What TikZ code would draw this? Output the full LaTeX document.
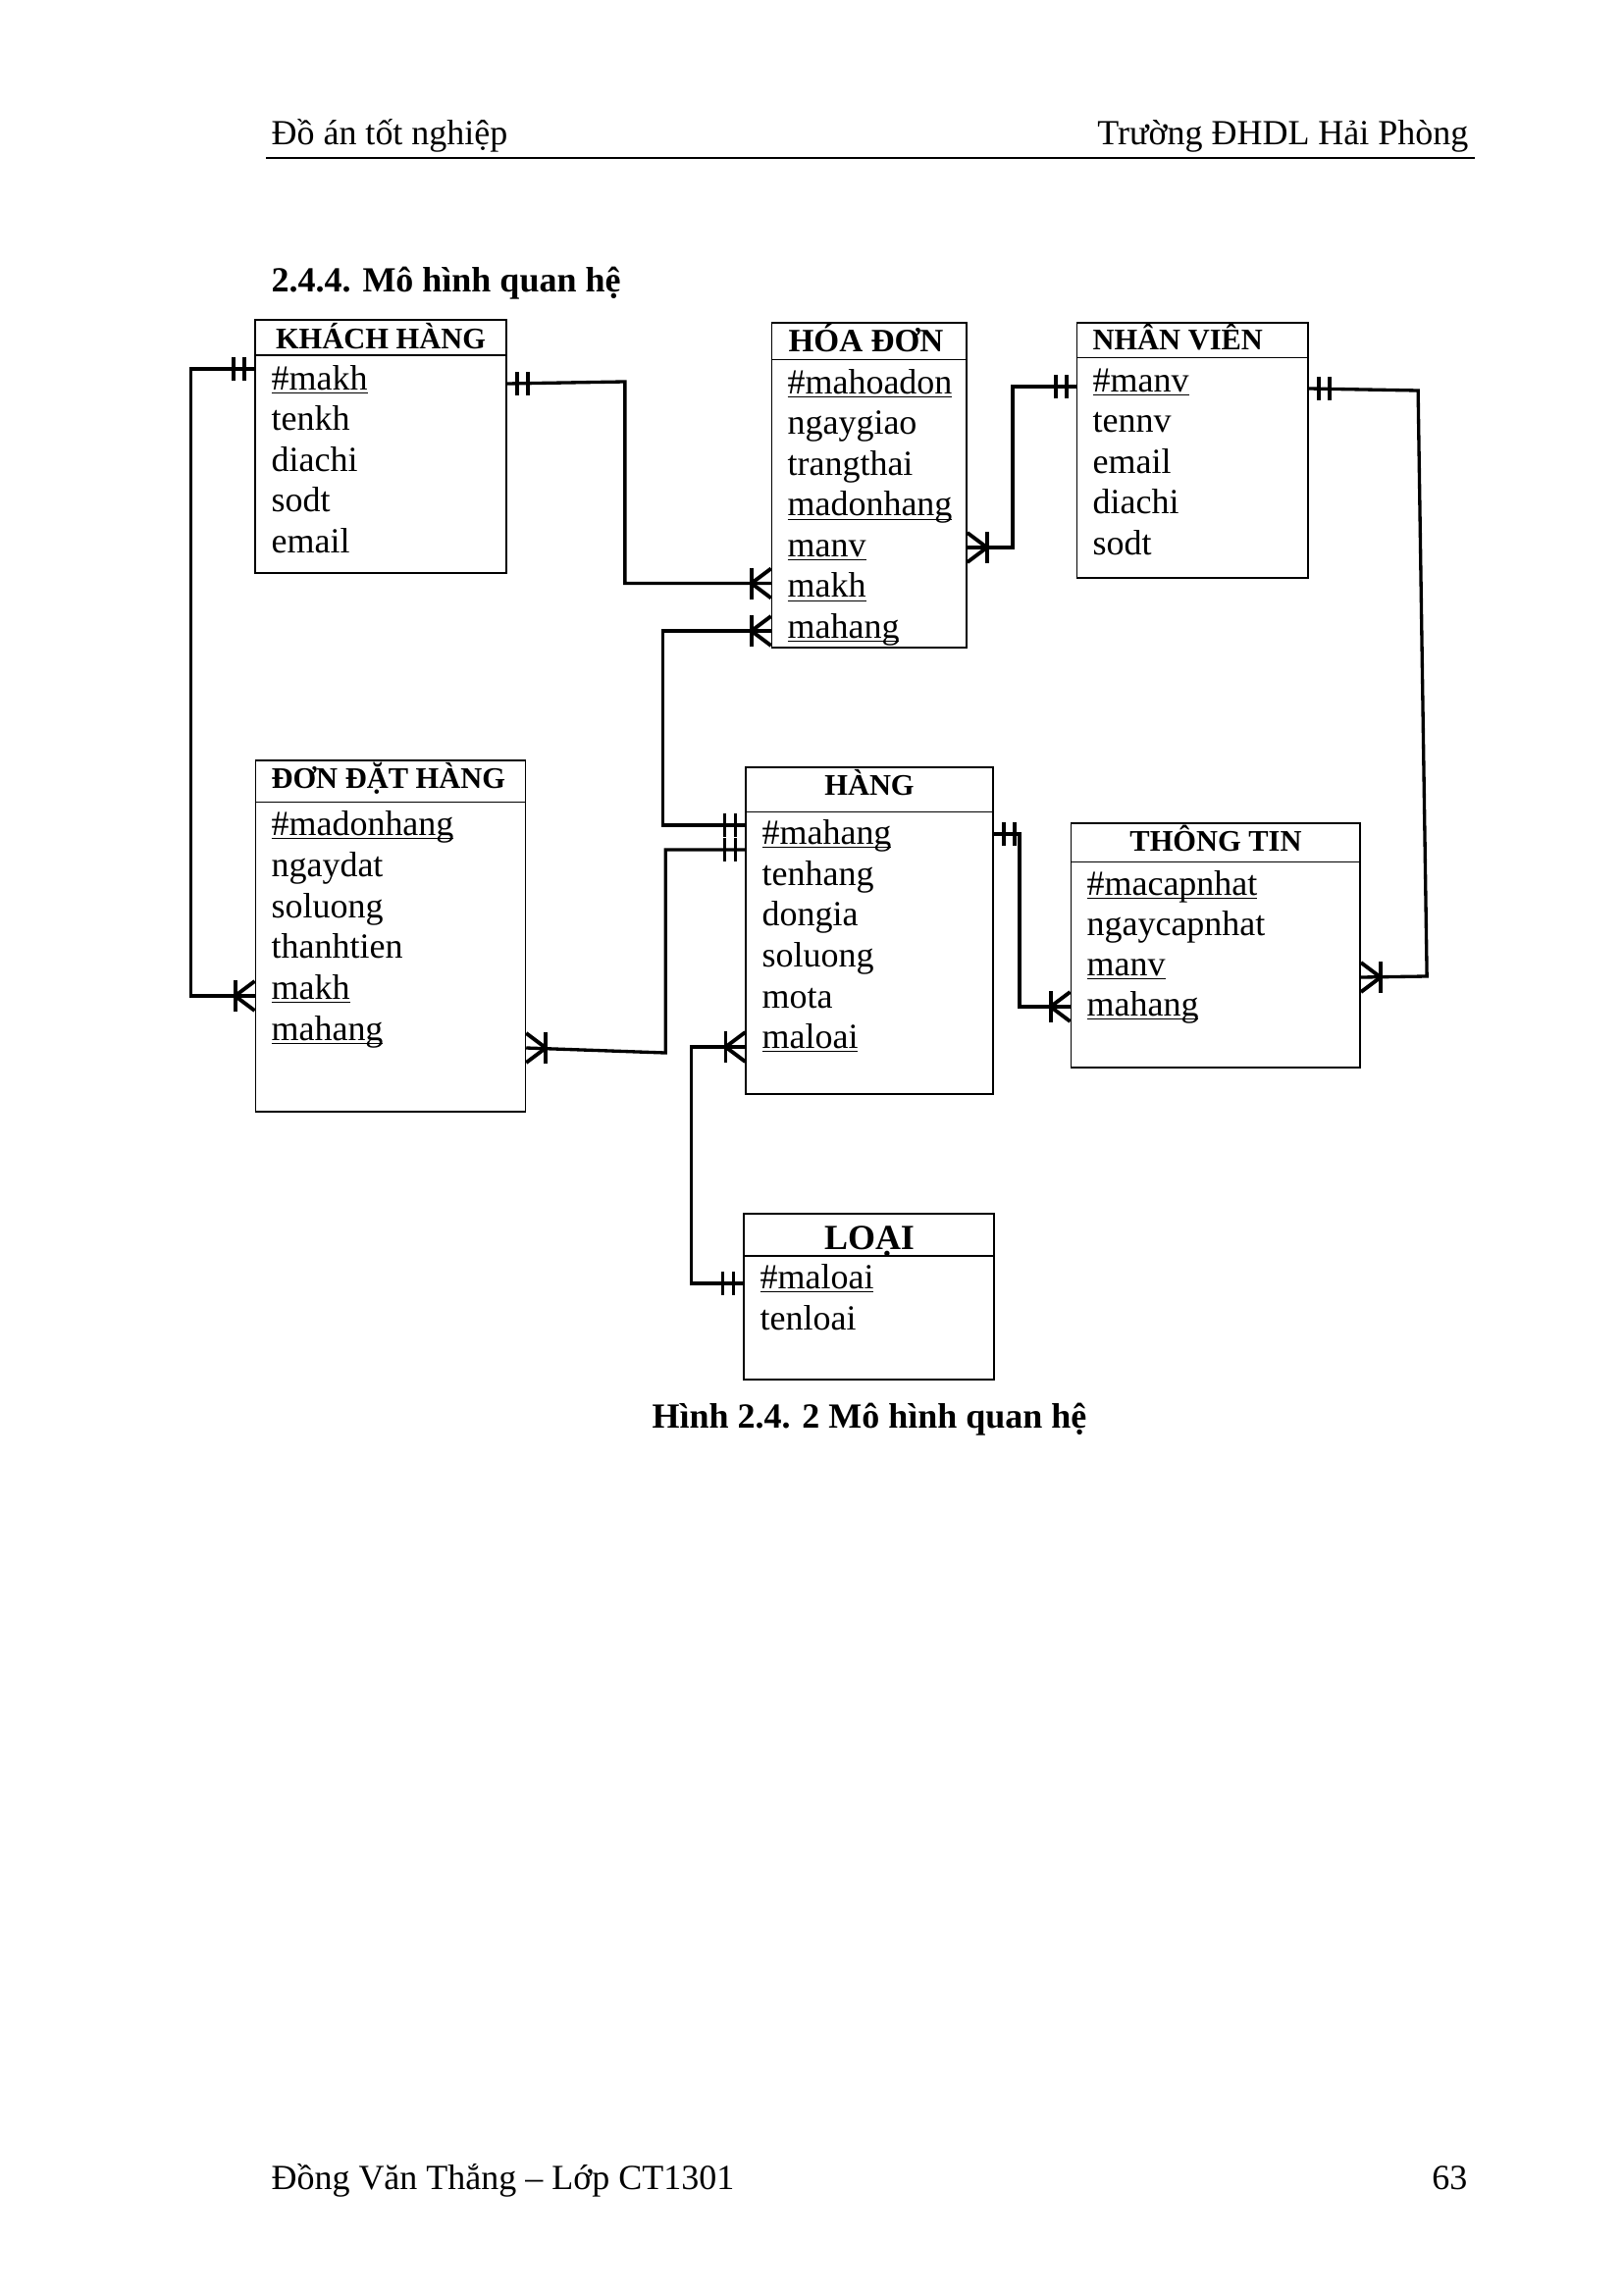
\documentclass[tikz,border=0pt]{standalone}
\usepackage{fontspec}
\setmainfont{Liberation Serif}
\usetikzlibrary{calc,fit}
\tikzset{
  ent/.style={draw, line width=0.6pt, inner sep=0pt},
  etitle/.style={font=\fontsize{11}{13}\selectfont\bfseries, inner sep=0pt, anchor=base},
  attr/.style={font=\fontsize{13}{15}\selectfont, inner sep=0pt, anchor=base west},
  pagetxt/.style={font=\fontsize{13}{15}\selectfont, inner sep=0pt},
  link/.style={line width=1.2pt},
  tick/.style={line width=1.4pt},
}
\newcommand{\ukey}[1]{\underline{\smash{#1}}}
% crow's foot (one or many), #2 = side where the line leaves (1 right, -1 left)
\newcommand{\crowfoot}[2]{%
  \draw[tick] ($(#1)+(#2*20,-16)$) -- ++(0,32);
  \draw[tick] ($(#1)+(0,-15)$) -- ($(#1)+(#2*20,0)$) -- ($(#1)+(0,15)$);
}
% two bars (one and only one)
\newcommand{\twobars}[2]{%
  \draw[tick] ($(#1)+(#2*10,-12)$) -- ++(0,24);
  \draw[tick] ($(#1)+(#2*21,-12)$) -- ++(0,24);
}
\begin{document}
\begin{tikzpicture}[x=0.12697mm, y=-0.12697mm]
\useasboundingbox (0,0) rectangle (1654,2339);
% page header and footer
\node[pagetxt, anchor=base west] (hdrl) at (276,148) {Đồ án tốt nghiệp};
\node[pagetxt, anchor=base east] (hdrr) at (1497,148) {Trường ĐHDL Hải Phòng};
\draw[line width=0.5pt] (271,161) -- (1503,161);
\node[pagetxt, anchor=base west, font=\fontsize{13}{15}\selectfont\bfseries] (sect) at (276,297) {2.4.4. Mô hình quan hệ};
\node[pagetxt, anchor=base, font=\fontsize{13}{15}\selectfont\bfseries] (cap) at (886,1455) {Hình 2.4. 2 Mô hình quan hệ};
\node[pagetxt, anchor=base west] (ftrl) at (276,2231) {Đồng Văn Thắng -- Lớp CT1301};
\node[pagetxt, anchor=base east] (ftrr) at (1496,2231) {63};

% KHACH HANG
\node[ent, fit={(260,326) (516,584)}] (kh) {};
\draw[line width=0.6pt] ($(kh.north west)+(0,37)$) -- ($(kh.north east)+(0,37)$);
\node[etitle] (kh-t) at (388,355) {KHÁCH HÀNG};
\node[attr] (kh-makh) at (276,397) {\ukey{\#makh}};
\node[attr] (kh-tenkh) at (276,438.5) {tenkh};
\node[attr] (kh-diachi) at (276,480) {diachi};
\node[attr] (kh-sodt) at (276,521.5) {sodt};
\node[attr] (kh-email) at (276,563) {email};

% HOA DON
\node[ent, fit={(786.6,328.7) (985,660)}] (hd) {};
\draw[line width=0.6pt] ($(hd.north west)+(0,38.6)$) -- ($(hd.north east)+(0,38.6)$);
\node[etitle, anchor=base west, font=\fontsize{12}{14}\selectfont\bfseries] (hd-t) at (803,358) {HÓA ĐƠN};
\node[attr] (hd-mahoadon) at (802,401) {\ukey{\#mahoadon}};
\node[attr] (hd-ngaygiao) at (802,442.5) {ngaygiao};
\node[attr] (hd-trangthai) at (802,484) {trangthai};
\node[attr] (hd-madonhang) at (802,525.5) {\ukey{madonhang}};
\node[attr] (hd-manv) at (802,567) {\ukey{manv}};
\node[attr] (hd-makh) at (802,608.5) {\ukey{makh}};
\node[attr] (hd-mahang) at (802,650) {\ukey{mahang}};

% NHAN VIEN
\node[ent, fit={(1097.5,328.7) (1333.3,589.3)}] (nv) {};
\draw[line width=0.6pt] ($(nv.north west)+(0,36.6)$) -- ($(nv.north east)+(0,36.6)$);
\node[etitle, anchor=base west] (nv-t) at (1113,356) {NHÂN VIÊN};
\node[attr] (nv-manv) at (1113,399) {\ukey{\#manv}};
\node[attr] (nv-tennv) at (1113,440.5) {tennv};
\node[attr] (nv-email) at (1113,482) {email};
\node[attr] (nv-diachi) at (1113,523.5) {diachi};
\node[attr] (nv-sodt) at (1113,565) {sodt};

% DON DAT HANG
\node[ent, fit={(260.4,774.7) (535.4,1132.7)}] (ddh) {};
\draw[line width=0.6pt] ($(ddh.north west)+(0,43.6)$) -- ($(ddh.north east)+(0,43.6)$);
\node[etitle, anchor=base west] (ddh-t) at (276,803) {ĐƠN ĐẶT HÀNG};
\node[attr] (ddh-madonhang) at (276,851) {\ukey{\#madonhang}};
\node[attr] (ddh-ngaydat) at (276,893) {ngaydat};
\node[attr] (ddh-soluong) at (276,935) {soluong};
\node[attr] (ddh-thanhtien) at (276,976) {thanhtien};
\node[attr] (ddh-makh) at (276,1018) {\ukey{makh}};
\node[attr] (ddh-mahang) at (276,1060) {\ukey{mahang}};

% HANG
\node[ent, fit={(760.3,781.7) (1012,1115)}] (hg) {};
\draw[line width=0.6pt] ($(hg.north west)+(0,46.6)$) -- ($(hg.north east)+(0,46.6)$);
\node[etitle] (hg-t) at (886,810) {HÀNG};
\node[attr] (hg-mahang) at (776,860) {\ukey{\#mahang}};
\node[attr] (hg-tenhang) at (776,902) {tenhang};
\node[attr] (hg-dongia) at (776,943) {dongia};
\node[attr] (hg-soluong) at (776,985) {soluong};
\node[attr] (hg-mota) at (776,1027) {mota};
\node[attr] (hg-maloai) at (776,1068) {\ukey{maloai}};

% THONG TIN
\node[ent, fit={(1091.4,839.3) (1386.1,1088.3)}] (tt) {};
\draw[line width=0.6pt] ($(tt.north west)+(0,40)$) -- ($(tt.north east)+(0,40)$);
\node[etitle] (tt-t) at (1239,867) {THÔNG TIN};
\node[attr] (tt-macapnhat) at (1107,912) {\ukey{\#macapnhat}};
\node[attr] (tt-ngaycapnhat) at (1107,953) {ngaycapnhat};
\node[attr] (tt-manv) at (1107,994) {\ukey{manv}};
\node[attr] (tt-mahang) at (1107,1035) {\ukey{mahang}};

% LOAI
\node[ent, fit={(758.3,1237.3) (1013.3,1406)}] (lo) {};
\draw[line width=0.6pt] ($(lo.north west)+(0,43.4)$) -- ($(lo.north east)+(0,43.4)$);
\node[etitle, font=\fontsize{13}{15}\selectfont\bfseries] (lo-t) at (886,1273) {LOẠI};
\node[attr] (lo-maloai) at (774,1313) {\ukey{\#maloai}};
\node[attr] (lo-tenloai) at (774,1355) {tenloai};

% relations
\draw[link] ($(kh.west |- kh-makh.base)+(0,-21)$) coordinate (c1a) -- ++(-65,0) |- ($(ddh.west |- ddh-makh.base)+(0,-3)$) coordinate (c1b);
\twobars{c1a}{-1} \crowfoot{c1b}{-1}
\draw[link] ($(kh.east |- kh-makh.base)+(0,-6)$) coordinate (c2a) -- ++(120,-2) |- ($(hd.west |- hd-makh.base)+(0,-14)$) coordinate (c2b);
\twobars{c2a}{1} \crowfoot{c2b}{-1}
\draw[link] ($(hd.west |- hd-mahang.base)+(0,-7)$) coordinate (c3a) -- ++(-110,0) |- ($(hg.west |- hg-mahang.base)+(0,-19)$) coordinate (c3b);
\crowfoot{c3a}{-1} \twobars{c3b}{-1}
\draw[link] ($(ddh.east |- ddh-mahang.base)+(0,8)$) coordinate (c4a) -- ++(142,5) |- ($(hg.west |- hg-mahang.base)+(0,6)$) coordinate (c4b);
\crowfoot{c4a}{1} \twobars{c4b}{-1}
\draw[link] ($(hd.east |- hd-manv.base)+(0,-9)$) coordinate (c5a) -- ++(46,0) |- ($(nv.west |- nv-manv.base)+(0,-5)$) coordinate (c5b);
\crowfoot{c5a}{1} \twobars{c5b}{-1}
\draw[link] ($(nv.east |- nv-manv.base)+(0,-3)$) coordinate (c6a) -- ++(111,2) -- ++(9,597) -- ($(tt.east |- tt-manv.base)+(0,2)$) coordinate (c6b);
\twobars{c6a}{1} \crowfoot{c6b}{1}
\draw[link] ($(hg.east |- hg-mahang.base)+(0,-10)$) coordinate (c7a) -- ++(26,0) |- ($(tt.west |- tt-mahang.base)+(0,-9)$) coordinate (c7b);
\twobars{c7a}{1} \crowfoot{c7b}{-1}
\draw[link] ($(hg.west |- hg-maloai.base)+(0,-1)$) coordinate (c8a) -- ++(-55,0) |- ($(lo.west |- lo-maloai.base)+(0,-5)$) coordinate (c8b);
\crowfoot{c8a}{-1} \twobars{c8b}{-1}
\end{tikzpicture}
\end{document}
